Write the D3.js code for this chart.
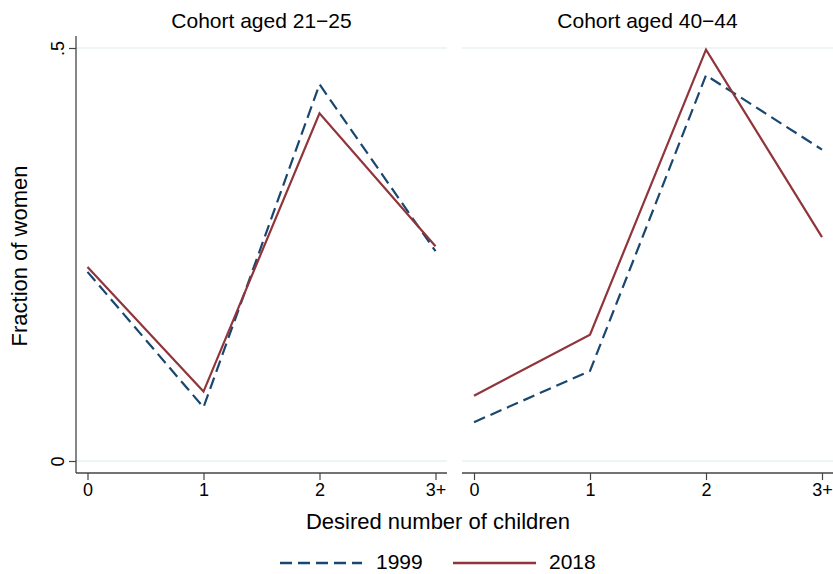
<!DOCTYPE html>
<html>
<head>
<meta charset="utf-8">
<script src="https://cdn.jsdelivr.net/npm/d3@7"></script>
<style>
  html, body { margin: 0; padding: 0; background: #ffffff; }
  svg { display: block; font-family: "Liberation Sans", Arial, Helvetica, sans-serif; }
</style>
</head>
<body>
<svg id="chart" width="833" height="574"></svg>
<script>
// Desired number of children, by cohort and survey year
const categories = ["0", "1", "2", "3+"];
const panels = ["Cohort aged 21\u221225", "Cohort aged 40\u221244"];
const years = ["1999", "2018"];
const young1999 = [0.229, 0.065, 0.456, 0.254];
const young2018 = [0.235, 0.084, 0.421, 0.260];
const old1999 = [0.047, 0.109, 0.467, 0.377];
const old2018 = [0.079, 0.153, 0.498, 0.271];
const yTicks = [0, 0.5];
const yTickLabels = ["0", ".5"];

const seriesByPanel = [[young1999, young2018], [old1999, old2018]];
const colors = { "1999": "#1a476f", "2018": "#90353b" };
const dashes = { "1999": "12,6", "2018": null };

const svg = d3.select("#chart");
const axisColor = "#444444";
const gridColor = "#eaf2f3";
const tickFont = 18;

const plotTop = 36, plotBottom = 473;
const y = d3.scaleLinear().domain([0, 0.5]).range([461, 48]);

const panelBoxes = [
  { left: 76, right: 447, first: 87.5, last: 435.5 },
  { left: 462, right: 833, first: 474, last: 822 }
];

panelBoxes.forEach((box, p) => {
  const x = d3.scalePoint().domain(categories).range([box.first, box.last]);
  const g = svg.append("g");

  // horizontal grid
  g.selectAll("line.grid").data(yTicks).join("line")
    .attr("x1", box.left).attr("x2", box.right)
    .attr("y1", d => y(d)).attr("y2", d => y(d))
    .attr("stroke", gridColor).attr("stroke-width", 1.3);

  // x axis
  const xAxis = d3.axisBottom(x).tickSize(7).tickPadding(3);
  const xg = g.append("g").attr("transform", `translate(0,${plotBottom})`).call(xAxis);
  xg.attr("font-size", tickFont).attr("font-family", "Liberation Sans, Arial, sans-serif");
  xg.select(".domain").remove();
  xg.append("line").attr("x1", box.left).attr("x2", box.right)
    .attr("stroke", axisColor).attr("stroke-width", 1.3);
  xg.selectAll(".tick line").attr("stroke", axisColor).attr("stroke-width", 1.2);
  xg.selectAll(".tick text").attr("fill", "#000");

  // panel title
  g.append("text")
    .attr("x", (box.left + box.right) / 2).attr("y", 28)
    .attr("text-anchor", "middle").attr("font-size", 21).attr("fill", "#000")
    .text(panels[p]);

  // y axis only on the first panel
  if (p === 0) {
    const yAxis = d3.axisLeft(y).tickValues(yTicks)
      .tickFormat((d, i) => yTickLabels[i]).tickSize(7).tickPadding(4);
    const yg = g.append("g").attr("transform", `translate(${box.left},0)`).call(yAxis);
    yg.attr("font-size", tickFont).attr("font-family", "Liberation Sans, Arial, sans-serif");
    yg.select(".domain").remove();
    yg.append("line").attr("y1", plotTop).attr("y2", plotBottom)
      .attr("stroke", axisColor).attr("stroke-width", 1.3);
    yg.selectAll(".tick line").attr("stroke", axisColor).attr("stroke-width", 1.2);
    yg.selectAll(".tick text")
      .attr("fill", "#000")
      .attr("text-anchor", "middle").attr("dy", null)
      .attr("x", null)
      .attr("transform", "translate(-12,0) rotate(-90)")
      .attr("y", 0);
  }

  // series lines
  const line = d3.line().x((d, i) => x(categories[i])).y(d => y(d));
  years.forEach((yr, s) => {
    g.append("path")
      .datum(seriesByPanel[p][s])
      .attr("d", line)
      .attr("fill", "none")
      .attr("stroke", colors[yr])
      .attr("stroke-width", 2.2)
      .attr("stroke-dasharray", dashes[yr]);
  });
});

// axis titles
svg.append("text")
  .attr("x", 438).attr("y", 529)
  .attr("text-anchor", "middle").attr("font-size", 22).attr("fill", "#000")
  .text("Desired number of children");

svg.append("text")
  .attr("transform", "translate(27,256) rotate(-90)")
  .attr("text-anchor", "middle").attr("font-size", 22).attr("fill", "#000")
  .text("Fraction of women");

// legend
const legendItems = [
  { year: "1999", x1: 280, x2: 362, tx: 376 },
  { year: "2018", x1: 453, x2: 536, tx: 549 }
];
const lg = svg.append("g");
legendItems.forEach(it => {
  lg.append("line")
    .attr("x1", it.x1).attr("x2", it.x2).attr("y1", 563).attr("y2", 563)
    .attr("stroke", colors[it.year]).attr("stroke-width", 2.5)
    .attr("stroke-dasharray", dashes[it.year]);
  lg.append("text")
    .attr("x", it.tx).attr("y", 569)
    .attr("font-size", 21).attr("fill", "#000")
    .text(it.year);
});
</script>
</body>
</html>
